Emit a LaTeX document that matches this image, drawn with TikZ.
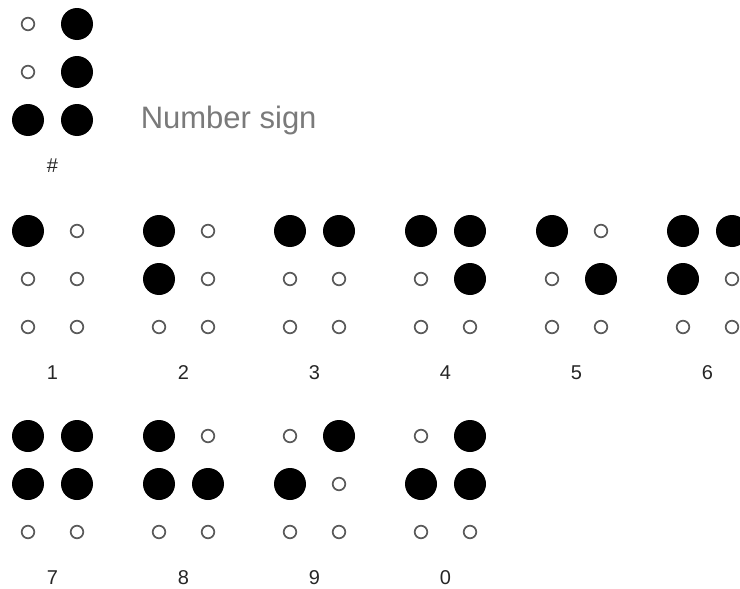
\documentclass[tikz,border=0pt]{standalone}
\usepackage{fontspec}
\setmainfont{Liberation Sans}
\usepackage{xcolor}
\usepackage{tikz}
\usetikzlibrary{positioning}

\definecolor{dotrim}{HTML}{5A5A5A}
\definecolor{captiongray}{HTML}{7A7A7A}

% one braille cell: name, x of left column, y of top row, six dot flags, label
\newcommand{\brcell}[5]{%
  \foreach \f [count=\d] in {#4} {
    \pgfmathtruncatemacro{\col}{int((\d-1)/3)}
    \pgfmathtruncatemacro{\row}{mod(\d-1,3)}
    \node[dot\f] (#1-\d) at ({#2+\col*49},{#3+\row*48}) {};
  }
  \node[digit] (#1-lbl) at ({#2+24.5},{#3+142}) {#5};
}

\begin{document}
\begin{tikzpicture}[
    x=0.5pt, y=-0.5pt,
    dot1/.style={circle, fill=black, inner sep=0pt, minimum size=16pt},
    dot0/.style={circle, draw=dotrim, line width=0.85pt, fill=white, inner sep=0pt, minimum size=6.3pt},
    digit/.style={font=\fontsize{10}{12}\selectfont, text=black!85},
    caption/.style={font=\fontsize{15.5}{18}\selectfont, text=captiongray, inner sep=0pt}
]
\clip (0,0) rectangle (740,589);

% number sign
\brcell{ns}{28}{24}{0,0,1,1,1,1}{\#}
\node (nscap) [caption, anchor=west, right=23.5pt of ns-6] {Number sign};

% digits 1 to 6
\brcell{one}{28}{231}{1,0,0,0,0,0}{1}
\brcell{two}{159}{231}{1,1,0,0,0,0}{2}
\brcell{three}{290}{231}{1,0,0,1,0,0}{3}
\brcell{four}{421}{231}{1,0,0,1,1,0}{4}
\brcell{five}{552}{231}{1,0,0,0,1,0}{5}
\brcell{six}{683}{231}{1,1,0,1,0,0}{6}

% digits 7 to 0
\brcell{seven}{28}{436}{1,1,0,1,1,0}{7}
\brcell{eight}{159}{436}{1,1,0,0,1,0}{8}
\brcell{nine}{290}{436}{0,1,0,1,0,0}{9}
\brcell{zero}{421}{436}{0,1,0,1,1,0}{0}

\end{tikzpicture}
\end{document}
